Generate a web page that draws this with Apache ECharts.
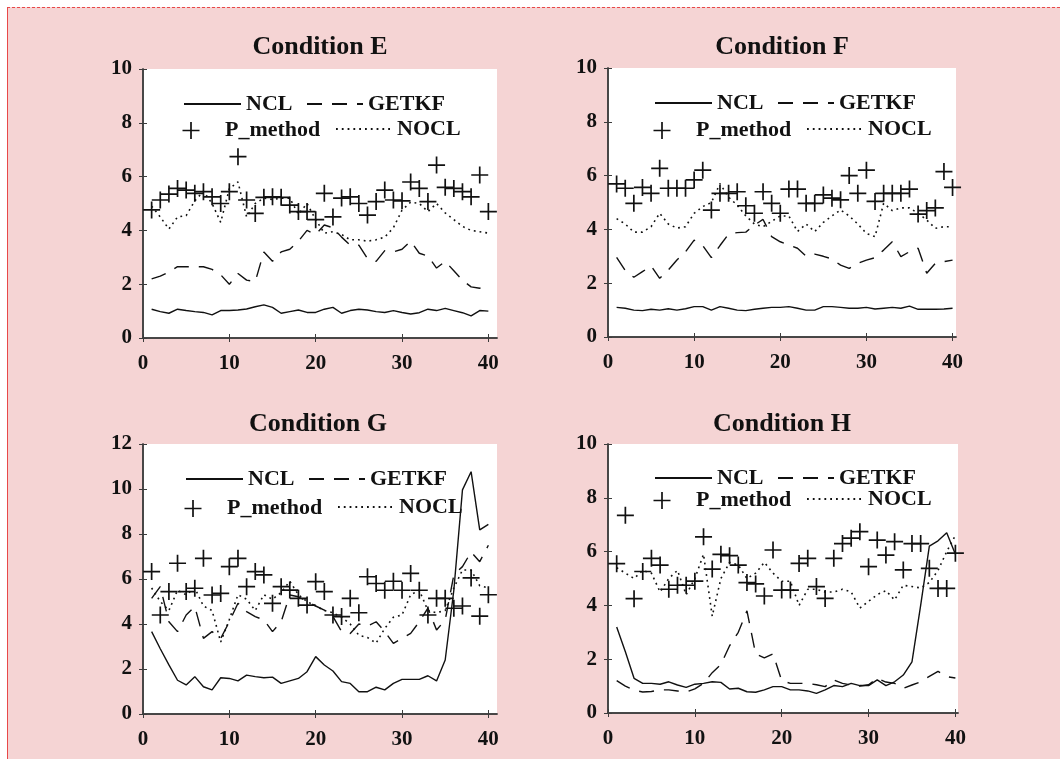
<!DOCTYPE html>
<html>
<head>
<meta charset="utf-8">
<script src="https://cdn.jsdelivr.net/npm/echarts@6/dist/echarts.min.js"></script>
<style>
  body { margin: 0; background: #fff; }
  #frame { position: absolute; left: 7px; top: 7px; width: 1053px; height: 752px; box-sizing: border-box;
           background: #f5d4d4; border-top: 1px dashed #e84848; border-left: 1px solid #e84848; }
  #main { position: absolute; left: 0; top: 0; width: 1060px; height: 759px; }
</style>
</head>
<body>
<div id="frame"></div>
<div id="main"></div>
<script type="text/javascript">
    // time steps (x axis)
    var steps = [1,2,3,4,5,6,7,8,9,10,11,12,13,14,15,16,17,18,19,20,
                 21,22,23,24,25,26,27,28,29,30,31,32,33,34,35,36,37,38,39,40];
    var xTicks = [0, 10, 20, 30, 40];

    // Condition E
    var nclE = [1.07,0.98,0.92,1.07,1.02,0.98,0.95,0.86,1.02,1.02,1.04,1.08,1.16,1.23,1.14,0.92,0.98,1.04,0.95,0.95,
                1.07,1.14,0.92,1.02,1.07,1.04,0.98,0.95,1.02,0.95,0.89,0.94,1.07,1.02,1.1,1.02,0.94,0.82,1.02,1.0];
    var getkfE = [2.2,2.3,2.45,2.65,2.65,2.65,2.65,2.55,2.35,2.0,2.4,2.15,2.1,3.2,2.85,3.2,3.3,3.6,4.0,3.85,
                  4.2,4.1,3.75,3.45,3.45,2.95,2.85,3.25,3.2,3.3,3.6,3.15,3.05,2.6,2.85,2.5,2.15,1.9,1.85,2.0];
    var pmE = [4.76,5.13,5.35,5.56,5.5,5.38,5.44,5.25,5.0,5.44,6.74,5.13,4.63,5.23,5.25,5.23,4.94,4.7,4.7,4.4,
               5.38,4.5,5.2,5.25,5.0,4.57,5.07,5.5,5.13,5.1,5.8,5.56,5.07,6.43,5.6,5.56,5.44,5.25,6.06,4.7];
    var noclE = [4.9,4.5,4.05,4.5,4.55,5.1,5.45,5.0,4.3,5.55,5.8,4.5,5.0,5.2,5.15,5.2,5.2,4.6,5.0,4.4,
                 3.9,3.95,3.85,3.65,3.65,3.6,3.65,3.75,4.1,4.75,5.05,5.0,4.7,5.0,4.65,4.4,4.15,4.0,3.95,3.9];

    // Condition F
    var nclF = [1.1,1.07,1.0,0.98,1.03,1.0,1.05,1.0,1.05,1.13,1.13,1.0,1.13,1.07,1.0,0.98,1.03,1.07,1.1,1.1,
                1.13,1.07,1.0,1.0,1.13,1.13,1.1,1.07,1.07,1.1,1.04,1.07,1.1,1.07,1.15,1.03,1.03,1.03,1.04,1.07];
    var getkfF = [2.96,2.47,2.22,2.43,2.64,2.18,2.49,2.86,3.17,3.6,3.4,2.95,3.4,3.83,3.88,3.9,4.16,4.37,3.73,3.54,
                  3.42,3.3,3.0,3.08,3.0,2.9,2.67,2.55,2.74,2.86,2.95,3.23,3.54,2.99,3.17,3.3,2.37,2.74,2.8,2.86];
    var pmF = [5.69,5.53,4.97,5.56,5.34,6.27,5.53,5.53,5.53,5.84,6.2,4.72,5.34,5.34,5.4,4.88,4.6,5.4,4.97,4.6,
               5.5,5.5,4.97,4.97,5.28,5.16,5.1,6.0,5.34,6.2,5.04,5.34,5.34,5.34,5.5,4.57,4.7,4.8,6.15,5.56];
    var noclF = [4.4,4.2,3.9,3.9,4.1,4.6,4.2,4.05,4.1,4.6,4.85,5.0,5.7,5.2,4.9,4.5,4.2,4.1,4.3,4.5,
                 4.5,3.92,4.2,3.92,4.26,4.5,4.72,4.5,4.2,3.85,3.73,4.97,4.7,4.8,4.8,4.6,4.35,4.04,4.1,4.1];

    // Condition G
    var nclG = [3.66,2.9,2.18,1.5,1.29,1.66,1.21,1.07,1.61,1.58,1.47,1.73,1.66,1.61,1.64,1.36,1.47,1.58,1.88,2.55,
                2.18,1.91,1.44,1.36,0.99,0.99,1.19,1.07,1.36,1.54,1.54,1.54,1.7,1.47,2.4,5.5,9.96,10.77,8.18,8.43];
    var getkfG = [5.14,5.66,4.1,3.66,4.4,4.77,3.36,3.66,3.36,4.1,4.92,4.55,4.33,4.18,3.66,4.1,5.29,5.21,5.0,4.8,
                  4.62,4.33,3.66,3.58,4.0,3.9,4.1,3.66,3.14,3.36,3.58,4.1,4.7,3.73,4.18,6.18,6.55,7.2,6.77,7.5];
    var pmG = [6.33,4.4,5.44,6.7,5.44,5.59,6.92,5.29,5.36,6.55,6.92,5.66,6.33,6.18,4.92,5.66,5.51,5.14,4.84,5.88,
               5.44,4.4,4.33,5.14,4.5,6.1,5.8,5.5,5.9,5.5,6.25,5.5,4.4,5.14,5.14,4.7,4.8,6.05,4.35,5.3];
    var noclG = [5.6,5.0,4.6,5.5,5.3,5.6,4.8,4.6,3.2,4.2,5.3,5.1,4.6,5.3,5.1,5.4,5.9,5.3,5.0,4.8,
                 4.6,4.5,4.3,4.0,3.5,3.4,3.15,3.8,4.3,4.4,5.3,5.5,4.6,4.5,4.6,5.6,6.4,6.4,5.7,5.6];

    // Condition H
    var nclH = [3.2,2.28,1.29,1.1,1.1,1.07,1.16,1.04,0.95,1.07,1.1,1.16,1.14,0.89,0.92,0.79,0.77,0.86,0.98,0.98,
                0.86,0.86,0.82,0.73,0.86,1.02,0.98,1.1,1.02,1.02,1.23,1.02,1.16,1.41,1.9,4.0,6.2,6.4,6.7,5.9];
    var getkfH = [1.2,1.0,0.85,0.78,0.8,0.86,0.86,0.82,0.78,0.9,1.1,1.5,1.8,2.5,3.0,3.8,2.2,2.05,2.2,1.2,
                  1.1,1.1,1.1,1.05,0.98,1.23,1.1,1.04,1.0,1.05,1.29,1.15,1.1,0.92,1.04,1.16,1.36,1.55,1.35,1.3];
    var pmH = [5.55,7.35,4.25,5.26,5.75,5.5,4.6,4.75,4.75,4.9,6.55,5.35,5.9,5.85,5.5,4.85,4.8,4.35,6.06,4.57,
               4.57,5.56,5.75,4.7,4.26,5.75,6.3,6.5,6.74,5.44,6.43,5.87,6.37,5.32,6.3,6.3,5.38,4.63,4.63,5.94];
    var noclH = [5.4,5.2,5.0,5.3,5.2,4.5,5.0,5.3,4.4,5.0,5.9,3.6,5.0,5.6,5.5,5.0,5.2,5.6,5.2,4.9,
                 4.9,4.0,4.6,4.6,4.5,4.5,4.6,4.5,3.9,4.15,4.4,4.55,4.2,4.75,4.7,4.65,4.85,5.3,6.0,6.6];

    var names = ['NCL', 'GETKF', 'P_method', 'NOCL'];

    // layout of the four panels
    var panels = [
        {title: 'Condition E', left: 143, top: 69, width: 354, height: 269, xMax: 41, yMax: 10,
         titleX: 320, titleTop: 34, rows: [103, 128], lx: 0, data: [nclE, getkfE, pmE, noclE]},
        {title: 'Condition F', left: 608, top: 68, width: 348, height: 269, xMax: 40.4, yMax: 10,
         titleX: 782, titleTop: 34, rows: [102, 128], lx: 471, data: [nclF, getkfF, pmF, noclF]},
        {title: 'Condition G', left: 143, top: 444, width: 354, height: 270, xMax: 41, yMax: 12,
         titleX: 318, titleTop: 411, rows: [478, 506], lx: 2, data: [nclG, getkfG, pmG, noclG]},
        {title: 'Condition H', left: 608, top: 444, width: 350, height: 269, xMax: 40.3, yMax: 10,
         titleX: 782, titleTop: 411, rows: [477, 498], lx: 471, data: [nclH, getkfH, pmH, noclH]}
    ];

    var serif = '"Liberation Serif", "Times New Roman", serif';
    var ink = '#111';
    var frameColor = '#3c3c3c';
    var plus = 'path://M9,0H11V9H20V11H11V20H9V11H0V9H9Z';

    var lineStyles = [
        {color: ink, width: 1.4, type: 'solid'},
        {color: ink, width: 1.4, type: [15, 10]},
        null,
        {color: ink, width: 1.6, type: [1.8, 4]}
    ];

    function pairs(values) {
        return values.map(function (v, i) { return [steps[i], v]; });
    }

    var option = {
        animation: false,
        title: [], grid: [], xAxis: [], yAxis: [], legend: [], series: []
    };

    var axisCommon = {
        axisLine: {show: true, lineStyle: {color: frameColor, width: 1.5}},
        splitLine: {show: false}
    };

    panels.forEach(function (p, k) {
        option.title.push({
            text: p.title, left: p.titleX, top: p.titleTop, textAlign: 'center', padding: 0,
            textStyle: {fontFamily: serif, fontWeight: 'bold', fontSize: 26, color: '#111'}
        });
        option.grid.push({
            left: p.left, top: p.top, width: p.width, height: p.height,
            show: true, backgroundColor: '#fff', borderWidth: 0
        });
        // bottom x axis with labels
        option.xAxis.push(Object.assign({}, axisCommon, {
            type: 'value', gridIndex: k, position: 'bottom', min: 0, max: p.xMax, interval: 10,
            axisTick: {inside: true, length: 4, lineStyle: {color: frameColor}, customValues: xTicks},
            axisLabel: {margin: 15, customValues: xTicks, fontFamily: serif, fontWeight: 'bold', fontSize: 21, color: '#111',
                        formatter: function (v) { return v % 10 === 0 ? String(v) : ''; }}
        }));
        // mirrored top axis (ticks only)
        option.xAxis.push(Object.assign({}, axisCommon, {
            type: 'value', gridIndex: k, position: 'top', min: 0, max: p.xMax, interval: 10,
            axisTick: {inside: true, length: 4, lineStyle: {color: frameColor}, customValues: xTicks},
            axisLabel: {show: false}
        }));
        option.yAxis.push(Object.assign({}, axisCommon, {
            type: 'value', gridIndex: k, position: 'left', min: 0, max: p.yMax, interval: 2,
            axisTick: {inside: true, length: 4, lineStyle: {color: frameColor}},
            axisLabel: {margin: 11, fontFamily: serif, fontWeight: 'bold', fontSize: 21, color: '#111'}
        }));
        option.yAxis.push(Object.assign({}, axisCommon, {
            type: 'value', gridIndex: k, position: 'right', min: 0, max: p.yMax, interval: 2,
            axisTick: {inside: true, length: 4, lineStyle: {color: frameColor}},
            axisLabel: {show: false}
        }));

        p.data.forEach(function (values, s) {
            if (s === 2) {
                option.series.push({
                    name: names[s], type: 'scatter', xAxisIndex: 2 * k, yAxisIndex: 2 * k,
                    symbol: plus, symbolSize: 17, itemStyle: {color: ink, opacity: 1},
                    data: pairs(values)
                });
            } else {
                option.series.push({
                    name: names[s], type: 'line', xAxisIndex: 2 * k, yAxisIndex: 2 * k,
                    symbol: 'none', lineStyle: lineStyles[s],
                    data: pairs(values)
                });
            }
        });

        // legend: one component per entry so each sits where it does in the figure
        var base = 143 + p.lx;
        var entries = [
            {name: 'NCL', x: base + 40, row: 0, w: 57},
            {name: 'GETKF', x: base + 163, row: 0, w: 56},
            {name: 'P_method', x: base + 39.5, row: 1, w: 58},
            {name: 'NOCL', x: base + 192, row: 1, w: 56}
        ];
        entries.forEach(function (e) {
            var h = e.name === 'P_method' ? 17 : 20;
            var leg = {
                data: [e.name], left: e.x, top: p.rows[e.row] - h / 2, padding: 0,
                itemWidth: e.w, itemHeight: h, selectedMode: false,
                textStyle: {fontFamily: serif, fontWeight: 'bold', fontSize: 22, color: '#111', lineHeight: h}
            };
            if (e.name !== 'P_method') {
                leg.itemStyle = {opacity: 0, borderWidth: 0};
            }
            option.legend.push(leg);
        });
    });

    var myChart = echarts.init(document.getElementById('main'));
    myChart.setOption(option);
</script>
</body>
</html>
